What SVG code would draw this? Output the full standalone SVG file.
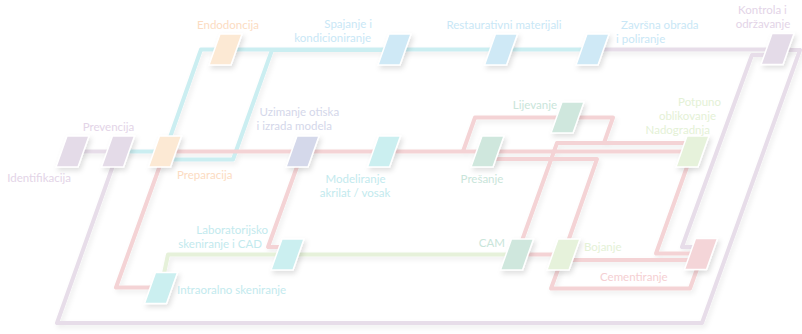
<svg xmlns="http://www.w3.org/2000/svg" width="802" height="334" viewBox="0 0 802 334">
<defs>
<filter id="sh" x="-30%" y="-30%" width="160%" height="160%">
<feDropShadow dx="2" dy="3" stdDeviation="2.5" flood-color="#000" flood-opacity="0.12"/>
</filter>
<filter id="shl" x="-5%" y="-5%" width="110%" height="110%">
<feDropShadow dx="2" dy="3" stdDeviation="2.5" flood-color="#000" flood-opacity="0.07"/>
</filter>
</defs>
<style>
.ln{fill:none;stroke-width:4;stroke-linejoin:round;stroke-linecap:butt}
.lav{stroke:#e7dde9}.cy{stroke:#cbeef1}.pk{stroke:#f4d3d5}.gr{stroke:#e6f1da}
.nd polygon{stroke:#fff;stroke-width:1.5;filter:url(#sh)}
.n-lav{fill:#e4dbe8}.n-pch{fill:#fce9d4}.n-blu{fill:#cfe9f6}.n-cy{fill:#cbeff0}
.n-sl{fill:#d4d8ea}.n-mt{fill:#cfe7dd}.n-lg{fill:#e6f2db}.n-pk{fill:#f4d5d8}
text{font-family:Lato,"Open Sans","Liberation Sans",sans-serif;font-size:11.5px}
.t-lav{fill:#e3d4e7}.t-pch{fill:#fcdcc2}.t-blu{fill:#c9e7f6}.t-cy{fill:#c3eaee}
.t-sl{fill:#d4d7ea}.t-mt{fill:#c9e5da}.t-lg{fill:#e4f1d6}.t-pk{fill:#f5cfd2}
.e{text-anchor:end}.m{text-anchor:middle}
</style>
<rect width="802" height="334" fill="#fff"/>
<g id="connectors" filter="url(#shl)">
<path class="ln lav" d="M72,151.5 H118"/>
<path class="ln lav" d="M118,151.5 L57,323 H702 L800,50 H777"/>
<path class="ln lav" d="M592,49.5 H777"/>
<path class="ln lav" d="M777,55 H752 L682,247 H701"/>
<path class="ln cy" d="M118,151.5 H165"/>
<path class="ln cy" d="M165,151.5 L201,49.5 H592"/>
<path class="ln cy" d="M165,159.5 H233 L272,50 H394"/>
<path class="ln pk" d="M165,151.5 H692"/>
<path class="ln pk" d="M463,151.5 L475,117.5 H613 L604,143 H692"/>
<path class="ln pk" d="M517,254.5 L557,143 H692"/>
<path class="ln pk" d="M487,159 H597 L563.5,254.5"/>
<path class="ln pk" d="M692.5,151.5 L656,253.5 H701"/>
<path class="ln pk" d="M563.5,260 H701"/>
<path class="ln pk" d="M563.5,254.5 L551,288.5 H690 L701,258"/>
<path class="ln pk" d="M517,254.5 H563.5"/>
<path class="ln pk" d="M165,151.5 L116,287.5 H161"/>
<path class="ln pk" d="M302.5,151.5 L268,247 H287.5"/>
<path class="ln gr" d="M161,288 L168,254.5 H517"/>
</g>
<g class="nd">
<g id="identifikacija"><polygon class="n-lav" transform="translate(72.5,151.5)" points="-5.5,-15.5 16.5,-15.5 5.5,15.5 -16.5,15.5"/><text class="t-lav e" x="71" y="182">Identifikacija</text></g>
<g id="prevencija"><polygon class="n-lav" transform="translate(118,151.5)" points="-5.5,-15.5 16.5,-15.5 5.5,15.5 -16.5,15.5"/><text class="t-lav m" x="108.5" y="131">Prevencija</text></g>
<g id="preparacija"><polygon class="n-pch" transform="translate(165,151.5)" points="-5.5,-15.5 16.5,-15.5 5.5,15.5 -16.5,15.5"/><text class="t-pch" x="177" y="179">Preparacija</text></g>
<g id="endodoncija"><polygon class="n-pch" transform="translate(225.5,49.5)" points="-5.5,-15.5 16.5,-15.5 5.5,15.5 -16.5,15.5"/><text class="t-pch m" x="228" y="29">Endodoncija</text></g>
<g id="spajanje"><polygon class="n-blu" transform="translate(394.5,49.5)" points="-5.5,-15.5 16.5,-15.5 5.5,15.5 -16.5,15.5"/><text class="t-blu e" x="372" y="28">Spajanje i</text><text class="t-blu e" x="371" y="42">kondicioniranje</text></g>
<g id="uzimanje"><polygon class="n-sl" transform="translate(302.5,151.5)" points="-5.5,-15.5 16.5,-15.5 5.5,15.5 -16.5,15.5"/><text class="t-sl" x="259.5" y="116">Uzimanje otiska</text><text class="t-sl" x="256.5" y="130">i izrada modela</text></g>
<g id="modeliranje"><polygon class="n-cy" transform="translate(384,151.5)" points="-5.5,-15.5 16.5,-15.5 5.5,15.5 -16.5,15.5"/><text class="t-cy m" x="355.5" y="182.5">Modeliranje</text><text class="t-cy m" x="355" y="196.5">akrilat / vosak</text></g>
<g id="restaurativni"><polygon class="n-blu" transform="translate(501,49.5)" points="-5.5,-15.5 16.5,-15.5 5.5,15.5 -16.5,15.5"/><text class="t-blu m" x="504" y="29">Restaurativni materijali</text></g>
<g id="zavrsna"><polygon class="n-blu" transform="translate(592.5,49.5)" points="-5.5,-15.5 16.5,-15.5 5.5,15.5 -16.5,15.5"/><text class="t-blu" x="621" y="29">Završna obrada</text><text class="t-blu" x="616" y="43">i poliranje</text></g>
<g id="kontrola"><polygon class="n-lav" transform="translate(777.5,49)" points="-5.5,-15.5 16.5,-15.5 5.5,15.5 -16.5,15.5"/><text class="t-lav m" x="762.5" y="14">Kontrola i</text><text class="t-lav m" x="763" y="28">održavanje</text></g>
<g id="lijevanje"><polygon class="n-mt" transform="translate(567.5,117.5)" points="-5.5,-15.5 16.5,-15.5 5.5,15.5 -16.5,15.5"/><text class="t-mt e" x="557" y="109">Lijevanje</text></g>
<g id="presanje"><polygon class="n-mt" transform="translate(487.5,151.5)" points="-5.5,-15.5 16.5,-15.5 5.5,15.5 -16.5,15.5"/><text class="t-mt m" x="482" y="183">Prešanje</text></g>
<g id="nadogradnja"><polygon class="n-lg" transform="translate(692.5,151.5)" points="-5.5,-15.5 16.5,-15.5 5.5,15.5 -16.5,15.5"/><text class="t-lg e" x="721" y="106">Potpuno</text><text class="t-lg e" x="716" y="120">oblikovanje</text><text class="t-lg e" x="710" y="134">Nadogradnja</text></g>
<g id="lab-skeniranje"><polygon class="n-cy" transform="translate(287.5,254.5)" points="-5.5,-15.5 16.5,-15.5 5.5,15.5 -16.5,15.5"/><text class="t-cy e" x="268" y="234">Laboratorijsko</text><text class="t-cy e" x="262" y="248">skeniranje i CAD</text></g>
<g id="intraoralno"><polygon class="n-cy" transform="translate(161,288)" points="-5.5,-15.5 16.5,-15.5 5.5,15.5 -16.5,15.5"/><text class="t-cy" x="177" y="294">Intraoralno skeniranje</text></g>
<g id="cam"><polygon class="n-mt" transform="translate(517,254.5)" points="-5.5,-15.5 16.5,-15.5 5.5,15.5 -16.5,15.5"/><text class="t-mt e" x="505" y="247">CAM</text></g>
<g id="bojanje"><polygon class="n-lg" transform="translate(563.5,254.5)" points="-5.5,-15.5 16.5,-15.5 5.5,15.5 -16.5,15.5"/><text class="t-lg" x="584" y="251">Bojanje</text></g>
<g id="cementiranje"><polygon class="n-pk" transform="translate(701,254)" points="-5.5,-15.5 16.5,-15.5 5.5,15.5 -16.5,15.5"/><text class="t-pk" x="600" y="281">Cementiranje</text></g>
</g>
</svg>
